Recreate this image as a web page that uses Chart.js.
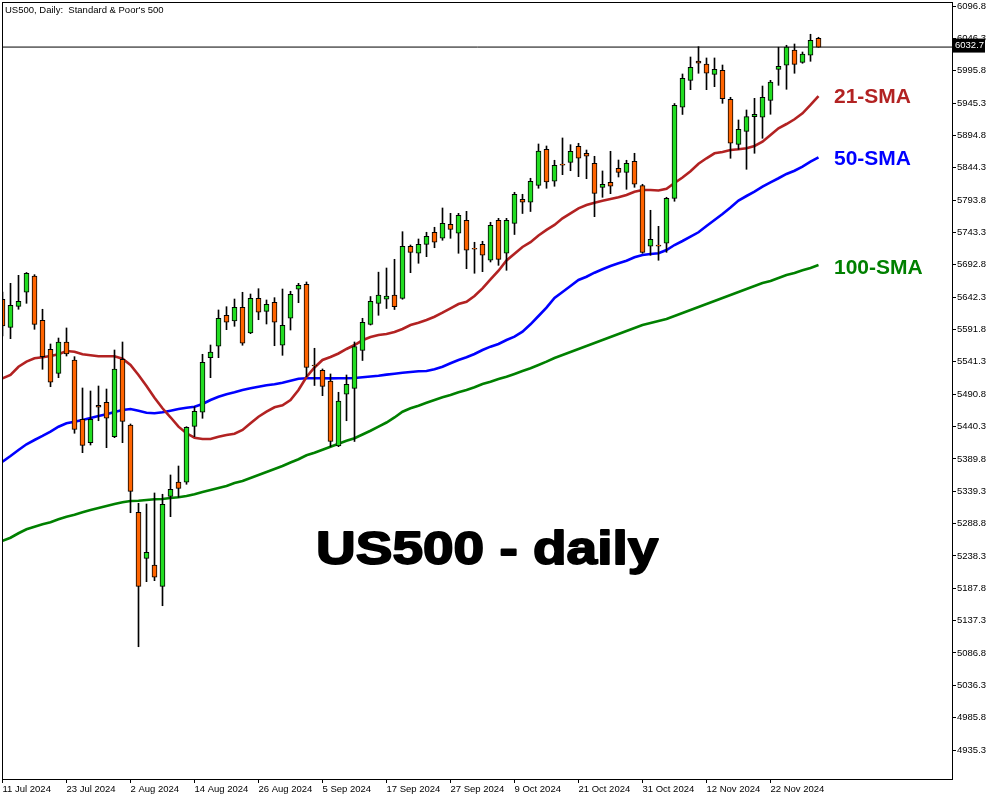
<!DOCTYPE html>
<html><head><meta charset="utf-8">
<script src="https://cdn.jsdelivr.net/npm/chart.js@4.4.1/dist/chart.umd.min.js"></script>
<style>html,body{margin:0;padding:0;background:#fff;}canvas{display:block;}</style>
</head><body>
<canvas id="c" width="1000" height="800" style="width:1000px;height:800px"></canvas>
<script>
const xTickIndex = [0,8,16,24,32,40,48,56,64,72,80,88,96];
const xTickLabels = ['11 Jul 2024','23 Jul 2024','2 Aug 2024','14 Aug 2024','26 Aug 2024','5 Sep 2024','17 Sep 2024','27 Sep 2024','9 Oct 2024','21 Oct 2024','31 Oct 2024','12 Nov 2024','22 Nov 2024'];
const yTickValues = [6096.8,6046.3,5995.8,5945.3,5894.8,5844.3,5793.8,5743.3,5692.8,5642.3,5591.8,5541.3,5490.8,5440.3,5389.8,5339.3,5288.8,5238.3,5187.8,5137.3,5086.8,5036.3,4985.8,4935.3];

const open = [
5639.0,5595.2,5628.0,5649.9,5675.3,5606.2,5560.9,5523.4,5572.3,5544.2,
5451.6,5415.1,5473.5,5478.2,5424.5,5545.3,5442.7,5306.4,5234.6,5224.2,
5190.9,5331.4,5353.8,5353.3,5440.7,5462.6,5547.8,5565.6,5614.0,5605.1,
5626.5,5586.4,5640.5,5620.2,5634.3,5567.2,5609.3,5654.6,5662.4,5536.4,
5528.1,5511.1,5410.0,5490.7,5500.0,5559.3,5599.9,5632.7,5639.3,5645.4,
5640.5,5721.7,5710.8,5724.8,5743.6,5734.2,5756.1,5742.0,5762.3,5718.7,
5724.8,5699.9,5762.3,5710.8,5757.6,5795.2,5790.6,5816.9,5873.1,5823.2,
5849.9,5852.8,5877.8,5866.9,5851.3,5813.8,5821.6,5843.5,5837.2,5854.4,
5816.3,5721.7,5723.4,5726.4,5796.6,5938.7,5980.8,6011.0,6006.3,5990.2,
5996.5,5951.2,5880.9,5901.2,5924.0,5923.1,5949.6,5998.0,6004.3,6028.1,
6008.9,6019.9,6046.4];
const high = [
5650.4,5663.9,5676.4,5680.8,5677.4,5623.4,5569.2,5578.5,5594.2,5549.4,
5500.5,5495.8,5503.6,5498.9,5559.8,5572.3,5444.3,5320.5,5319.4,5336.6,
5334.6,5364.7,5378.7,5440.1,5471.3,5553.1,5567.6,5622.3,5627.4,5639.4,
5649.9,5647.2,5655.5,5637.9,5641.5,5655.0,5651.5,5663.9,5666.0,5562.5,
5530.2,5522.4,5493.8,5520.8,5572.3,5609.3,5643.3,5681.3,5687.8,5701.4,
5744.5,5723.7,5733.1,5743.6,5751.4,5781.5,5773.2,5773.2,5776.3,5728.0,
5729.5,5759.2,5765.4,5765.4,5806.0,5802.9,5827.9,5881.4,5878.3,5856.0,
5890.8,5880.3,5882.5,5872.0,5862.2,5839.3,5870.0,5856.4,5856.0,5866.9,
5818.5,5777.9,5752.9,5798.2,5944.6,5990.7,6017.2,6033.3,6015.7,6015.7,
6004.7,5954.3,5918.9,5934.5,5952.7,5971.9,5980.8,6032.4,6035.5,6037.5,
6025.0,6052.7,6048.0];
const low = [
5581.7,5577.5,5623.4,5632.7,5592.1,5529.7,5502.5,5516.6,5550.4,5429.8,
5399.5,5411.5,5449.4,5407.3,5422.9,5415.1,5305.8,5096.6,5198.1,5199.7,
5160.6,5299.6,5329.9,5350.2,5424.5,5453.2,5516.6,5547.8,5591.5,5596.8,
5567.2,5585.3,5607.1,5600.4,5566.5,5551.5,5591.0,5633.7,5518.1,5504.4,
5488.5,5408.9,5408.9,5449.4,5417.0,5543.4,5598.8,5614.0,5624.6,5623.0,
5639.0,5680.5,5695.2,5705.5,5719.5,5731.1,5734.2,5710.8,5686.7,5679.6,
5682.1,5697.2,5692.0,5684.2,5740.1,5772.9,5776.0,5812.3,5812.3,5815.4,
5833.5,5839.7,5830.4,5827.2,5767.9,5798.2,5803.8,5829.9,5810.7,5813.8,
5710.8,5707.7,5699.9,5712.3,5792.0,5927.5,5966.2,5991.8,5966.2,5970.9,
5944.9,5859.1,5873.1,5841.9,5866.9,5890.3,5927.8,5973.0,5966.8,5991.8,
6007.4,6010.5,6032.4];
const close = [
5597.3,5629.6,5635.8,5679.6,5599.9,5549.4,5509.4,5572.3,5553.6,5436.0,
5411.0,5451.6,5470.4,5453.2,5530.2,5448.5,5339.2,5190.9,5244.0,5205.0,
5318.9,5342.4,5343.9,5439.1,5464.1,5540.6,5556.7,5609.3,5603.1,5626.5,
5570.3,5640.5,5618.7,5631.2,5603.1,5598.4,5646.8,5660.8,5532.5,5534.8,
5503.1,5417.0,5479.9,5506.3,5565.3,5603.1,5635.8,5645.4,5643.8,5627.4,
5721.7,5712.3,5724.8,5737.3,5728.0,5757.6,5748.2,5770.1,5715.5,5717.2,
5707.7,5754.5,5701.4,5762.3,5802.9,5790.6,5823.2,5870.5,5822.1,5848.2,
5848.3,5870.0,5859.1,5862.2,5804.4,5818.5,5815.4,5837.2,5851.3,5818.5,
5712.3,5732.6,5721.9,5796.6,5941.8,5984.0,6001.1,6007.4,5991.8,5998.0,
5952.1,5882.5,5904.4,5924.0,5927.8,5954.3,5978.2,6002.7,6032.8,6005.8,
6021.9,6043.3,6032.7];
const sma21 = [
5515.6,5520.8,5533.7,5541.6,5546.9,5548.4,5550.4,5553.1,5558.3,5557.2,
5553.1,5551.5,5550.0,5550.0,5550.0,5546.2,5536.4,5520.8,5503.6,5485.4,
5468.8,5454.8,5440.1,5429.8,5422.9,5420.9,5420.9,5424.5,5427.1,5429.2,
5434.9,5445.4,5455.7,5463.5,5470.4,5473.5,5481.8,5497.4,5517.7,5532.5,
5544.2,5548.9,5554.4,5561.4,5567.6,5575.0,5580.1,5583.2,5584.8,5587.9,
5592.6,5598.8,5602.4,5606.7,5611.8,5618.0,5624.9,5631.6,5635.2,5644.1,
5656.1,5670.2,5683.6,5699.5,5710.2,5720.6,5728.1,5738.6,5747.2,5755.0,
5765.4,5773.2,5781.0,5786.2,5789.8,5792.9,5795.5,5798.2,5801.8,5806.9,
5809.6,5809.6,5808.8,5811.6,5820.5,5829.1,5838.9,5850.5,5859.1,5866.9,
5868.9,5872.0,5873.1,5874.7,5878.3,5885.0,5895.5,5905.9,5912.6,5920.0,
5929.3,5942.3,5956.3];
const sma50 = [
5385.4,5394.3,5403.7,5412.6,5419.3,5425.6,5432.3,5440.1,5445.4,5447.9,
5450.5,5453.7,5456.8,5459.4,5463.0,5466.2,5467.7,5465.1,5461.9,5461.0,
5462.6,5465.1,5467.7,5469.7,5471.3,5475.5,5481.8,5486.9,5490.7,5493.8,
5497.4,5500.0,5502.5,5504.7,5506.3,5508.8,5511.9,5515.0,5515.6,5515.8,
5515.6,5515.5,5515.6,5515.8,5516.1,5517.2,5518.4,5519.7,5521.4,5522.8,
5524.4,5525.5,5526.6,5527.0,5529.7,5533.7,5539.1,5544.2,5548.4,5553.6,
5559.8,5565.0,5569.2,5575.4,5580.6,5588.4,5599.9,5612.9,5625.9,5641.0,
5650.4,5659.7,5669.1,5674.2,5680.5,5685.8,5691.0,5695.2,5699.2,5704.5,
5708.1,5709.7,5710.8,5715.9,5723.7,5730.0,5736.7,5743.6,5753.4,5762.8,
5772.1,5782.3,5793.2,5800.2,5806.9,5814.7,5821.6,5827.9,5834.6,5839.7,
5846.0,5853.8,5860.6];
const sma100 = [
5262.1,5266.8,5273.7,5279.9,5284.0,5287.7,5290.8,5295.5,5299.6,5302.7,
5306.5,5310.0,5313.2,5316.3,5319.4,5322.1,5324.1,5324.5,5325.7,5326.7,
5327.2,5328.8,5329.9,5331.9,5334.6,5338.1,5341.3,5344.4,5347.5,5352.2,
5355.3,5360.0,5364.7,5369.4,5374.0,5378.7,5384.2,5389.2,5395.4,5399.3,
5404.2,5408.9,5413.5,5418.1,5422.0,5427.9,5433.7,5440.1,5446.6,5454.5,
5463.5,5468.8,5472.9,5477.5,5481.8,5486.0,5489.6,5493.8,5497.4,5501.6,
5506.7,5510.3,5514.5,5518.1,5522.4,5527.0,5531.2,5536.4,5541.6,5547.3,
5552.0,5556.7,5561.4,5566.1,5570.7,5575.4,5580.1,5584.8,5589.5,5594.2,
5598.8,5602.0,5605.1,5608.2,5612.9,5617.6,5622.3,5626.9,5631.6,5636.3,
5641.0,5645.7,5650.4,5655.0,5659.7,5664.4,5667.5,5672.2,5676.9,5680.0,
5684.2,5687.8,5692.5];

const BULL = '#22DD22', BEAR = '#FF6400';
const lastPrice = close[close.length - 1];
const FONT = '"Liberation Sans", Arial, sans-serif';

const bodies = open.map((o, i) => ({x: i, y: [o, close[i]]}));
const wicks = low.map((l, i) => ({x: i, y: [l, high[i]]}));
const line = arr => arr.map((v, i) => ({x: i, y: v}));

const overlay = {
  id: 'overlay',
  afterDraw(chart) {
    const ctx = chart.ctx, ys = chart.scales.y;
    ctx.save();
    ctx.strokeStyle = '#000'; ctx.lineWidth = 1;
    ctx.strokeRect(2.5, 2.5, 950, 777);
    ctx.fillStyle = '#000';
    ctx.font = '9.5px ' + FONT;
    ctx.textBaseline = 'alphabetic';
    ctx.fillText("US500, Daily:  Standard & Poor's 500", 5, 13);
    const py = ys.getPixelForValue(lastPrice);
    ctx.fillStyle = '#000';
    ctx.fillRect(953, py - 8.5, 32, 14);
    ctx.fillStyle = '#fff';
    ctx.textBaseline = 'middle';
    ctx.fillText(lastPrice.toFixed(1), 955, py - 1.5);
    ctx.textBaseline = 'alphabetic';
    ctx.font = 'bold 21px ' + FONT;
    ctx.fillStyle = '#B22222'; ctx.fillText('21-SMA', 834, 103);
    ctx.fillStyle = '#0000FF'; ctx.fillText('50-SMA', 834, 165);
    ctx.fillStyle = '#008000'; ctx.fillText('100-SMA', 834, 274);
    ctx.translate(316, 564);
    ctx.scale(1.17, 1);
    ctx.font = 'bold 47px ' + FONT;
    ctx.fillStyle = '#000'; ctx.strokeStyle = '#000'; ctx.lineWidth = 1.8; ctx.lineJoin = 'round';
    ctx.fillText('US500 - daily', 0, 0);
    ctx.strokeText('US500 - daily', 0, 0);
    ctx.restore();
  }
};

new Chart(document.getElementById('c'), {
  data: {
    datasets: [
      {type: 'bar', data: bodies, grouped: false, barThickness: 5, order: 1,
       backgroundColor: open.map((o, i) => close[i] >= o ? BULL : BEAR),
       borderColor: '#000', borderWidth: 1, borderSkipped: false},
      {type: 'bar', data: wicks, grouped: false, barThickness: 1, order: 2,
       backgroundColor: '#000', borderWidth: 0},
      {type: 'line', data: line(sma21), borderColor: '#B22222', borderWidth: 2.6, pointRadius: 0, order: 3},
      {type: 'line', data: line(sma50), borderColor: '#0000FF', borderWidth: 2.6, pointRadius: 0, order: 3},
      {type: 'line', data: line(sma100), borderColor: '#008000', borderWidth: 2.6, pointRadius: 0, order: 3},
      {type: 'line', data: [{x: 0.0625, y: lastPrice}, {x: 118.6875, y: lastPrice}], borderColor: '#000', borderWidth: 1, pointRadius: 0, order: 4}
    ]
  },
  options: {
    responsive: false, animation: false, devicePixelRatio: 1,
    layout: {padding: {left: 3, top: 3, right: 0, bottom: 0}},
    plugins: {legend: {display: false}, tooltip: {enabled: false}},
    scales: {
      x: {type: 'linear', min: 0.0625, max: 118.6875, offset: false,
        afterBuildTicks: s => { s.ticks = xTickIndex.map(v => ({value: v})); },
        afterFit: s => { s.height = 21; s.paddingLeft = 0; s.paddingRight = 0; },
        ticks: {autoSkip: false, maxRotation: 0, align: 'start', padding: 1, color: '#000',
          font: {family: FONT, size: 9.5},
          callback: v => xTickLabels[xTickIndex.indexOf(v)]},
        grid: {offset: false, drawOnChartArea: false, drawTicks: true, tickLength: 4, tickColor: '#000'},
        border: {display: false}},
      y: {type: 'linear', position: 'right', min: 4890.1, max: 6101.5,
        afterBuildTicks: s => { s.ticks = yTickValues.map(v => ({value: v})); },
        afterFit: s => { s.width = 48; s.paddingTop = 0; s.paddingBottom = 0; },
        ticks: {padding: 1, color: '#000', font: {family: FONT, size: 9.5},
          callback: v => v.toFixed(1)},
        grid: {drawOnChartArea: false, drawTicks: true, tickLength: 4, tickColor: '#000'},
        border: {display: false}}
    }
  },
  plugins: [overlay]
});
</script>
</body></html>
